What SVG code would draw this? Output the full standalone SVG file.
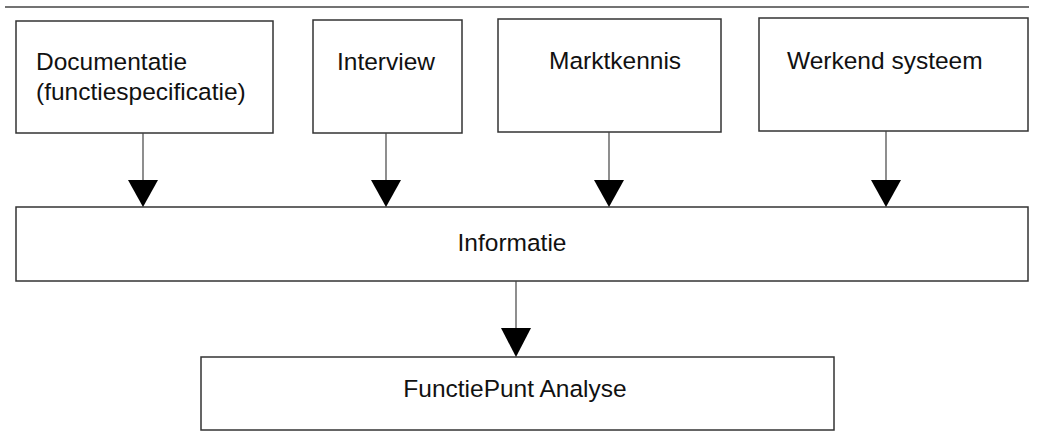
<svg xmlns="http://www.w3.org/2000/svg" width="1037" height="433" viewBox="0 0 1037 433">
<style>
.box{fill:#fff;stroke:#333;stroke-width:1.5}
.lbl{font-family:"Liberation Sans",Arial,sans-serif;font-size:24.5px;fill:#111}
.conn{stroke:#444;stroke-width:1.2;fill:none}
.head{fill:#000}
</style>
<rect width="1037" height="433" fill="#fff"/>
<line x1="5" y1="7" x2="1029" y2="7" stroke="#444" stroke-width="1.5"/>
<g id="doc"><rect class="box" x="16" y="21" width="257" height="112"/>
<text class="lbl" x="36" y="70">Documentatie</text><text class="lbl" x="36" y="100">(functiespecificatie)</text></g>
<g id="interview"><rect class="box" x="313" y="20" width="149" height="113"/>
<text class="lbl" x="337" y="70">Interview</text></g>
<g id="markt"><rect class="box" x="498" y="19" width="223" height="113"/>
<text class="lbl" x="549" y="69">Marktkennis</text></g>
<g id="werkend"><rect class="box" x="759" y="18" width="269" height="113"/>
<text class="lbl" x="787" y="69">Werkend systeem</text></g>
<g id="informatie"><rect class="box" x="16" y="207" width="1012" height="74"/>
<text class="lbl" x="512" y="251" text-anchor="middle">Informatie</text></g>
<g id="fpa"><rect class="box" x="201" y="357" width="633" height="73"/>
<text class="lbl" x="515" y="397" text-anchor="middle">FunctiePunt Analyse</text></g>
<g id="connectors">
<line class="conn" x1="143" y1="133" x2="143" y2="182"/><polygon class="head" points="128,180 158,180 143,207"/>
<line class="conn" x1="386" y1="133" x2="386" y2="182"/><polygon class="head" points="371,180 401,180 386,207"/>
<line class="conn" x1="609" y1="132" x2="609" y2="182"/><polygon class="head" points="594,180 624,180 609,207"/>
<line class="conn" x1="886" y1="131" x2="886" y2="182"/><polygon class="head" points="871,180 901,180 886,207"/>
<line class="conn" x1="516" y1="281" x2="516" y2="330"/><polygon class="head" points="501,328 531,328 516,357"/>
</g>
</svg>
